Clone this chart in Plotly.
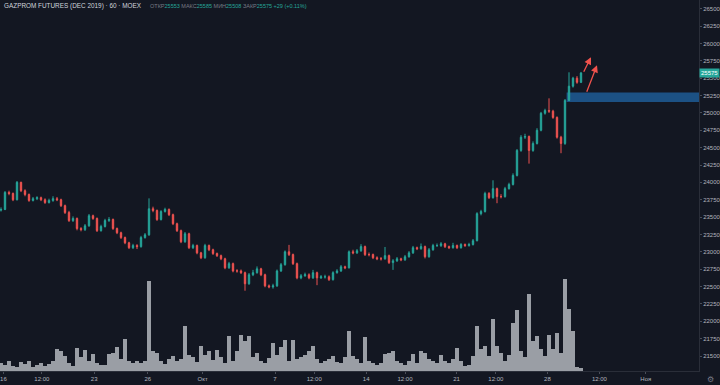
import plotly.graph_objects as go

# ---- data (hourly candles, aggregated) ----
opens = [23600, 23610, 23855, 23840, 23750, 24000, 23880, 23825, 23740, 23765,
         23780, 23750, 23710, 23740, 23765, 23750, 23665, 23565, 23450, 23480,
         23335, 23320, 23375, 23520, 23480, 23305, 23365, 23450, 23465, 23335,
         23275, 23205, 23130, 23060, 23090, 23075, 23205, 23245, 23620, 23595,
         23465, 23580, 23610, 23535, 23405, 23305, 23145, 23260, 23060, 23090,
         22985, 22915, 23090, 23030, 22975, 22945, 22900, 22770, 22830, 22725,
         22725, 22700, 22540, 22670, 22700, 22755, 22670, 22510, 22495, 22510,
         22725, 22815, 23000, 22960, 22830, 22625, 22655, 22670, 22625, 22700,
         22625, 22640, 22640, 22600, 22700, 22725, 22785, 22770, 23000, 22985,
         23015, 23075, 22960, 22960, 22915, 22900, 22900, 22945, 22845, 22870,
         22900, 22885, 22930, 22985, 23060, 23045, 23075, 22930, 23030, 23090,
         23090, 23115, 23075, 23060, 23090, 23060, 23105, 23090, 23105, 23160,
         23550, 23580, 23840, 23780, 23910, 23795, 23795, 23910, 23970, 24100,
         24460, 24650, 24660, 24460, 24560, 24750, 24995, 25035, 25025, 24935,
         24650, 24560, 25180, 25385, 25500, 25440]
closes = [23610, 23855, 23840, 23750, 24000, 23880, 23825, 23740, 23765, 23780,
          23750, 23710, 23740, 23765, 23750, 23665, 23565, 23450, 23480, 23335,
          23320, 23375, 23520, 23480, 23305, 23365, 23450, 23465, 23335, 23275,
          23205, 23130, 23060, 23090, 23075, 23205, 23245, 23620, 23595, 23465,
          23580, 23610, 23535, 23405, 23305, 23145, 23260, 23060, 23090, 22985,
          22915, 23090, 23030, 22975, 22945, 22900, 22770, 22830, 22725, 22725,
          22700, 22540, 22670, 22700, 22755, 22670, 22510, 22495, 22510, 22725,
          22815, 23000, 22960, 22830, 22625, 22655, 22670, 22625, 22700, 22625,
          22640, 22640, 22600, 22700, 22725, 22785, 22770, 23000, 22985, 23015,
          23075, 22960, 22960, 22915, 22900, 22900, 22945, 22845, 22870, 22900,
          22885, 22930, 22985, 23060, 23045, 23075, 22930, 23030, 23090, 23090,
          23115, 23075, 23060, 23090, 23060, 23105, 23090, 23105, 23160, 23550,
          23580, 23840, 23780, 23910, 23795, 23795, 23910, 23970, 24100, 24460,
          24650, 24660, 24460, 24560, 24750, 24995, 25035, 25025, 24935, 24650,
          24560, 25180, 25385, 25500, 25440, 25575]
highs = [23640, 23875, 23880, 23855, 24020, 24010, 23900, 23840, 23790, 23800,
         23795, 23770, 23765, 23800, 23790, 23765, 23680, 23590, 23510, 23495,
         23355, 23400, 23545, 23535, 23495, 23390, 23475, 23500, 23480, 23350,
         23290, 23220, 23145, 23115, 23110, 23230, 23270, 23770, 23650, 23610,
         23600, 23635, 23625, 23550, 23420, 23320, 23285, 23275, 23115, 23105,
         23000, 23115, 23105, 23045, 22990, 22960, 22915, 22855, 22845, 22750,
         22745, 22715, 22695, 22740, 22790, 22770, 22685, 22530, 22540, 22745,
         22840, 23020, 23100, 22975, 22845, 22680, 22700, 22690, 22740, 22715,
         22665, 22670, 22660, 22720, 22750, 22810, 22800, 23020, 23030, 23040,
         23110, 23090, 22990, 22975, 22935, 22925, 23070, 22960, 22895, 22925,
         22915, 22955, 23010, 23085, 23075, 23120, 23090, 23055, 23115, 23120,
         23140, 23130, 23090, 23130, 23105, 23125, 23120, 23130, 23185, 23570,
         23605, 23865, 23860, 24030, 23925, 23830, 23935, 23995, 24130, 24480,
         24680, 24700, 24675, 24590, 24780, 25015, 25060, 25210, 25045, 24950,
         24670, 25200, 25585, 25520, 25530, 25590]
lows = [23580, 23600, 23815, 23730, 23740, 23860, 23800, 23720, 23725, 23745,
        23730, 23690, 23695, 23720, 23730, 23645, 23545, 23430, 23430, 23310,
        23295, 23300, 23360, 23460, 23285, 23290, 23350, 23430, 23315, 23255,
        23185, 23110, 23040, 23040, 23040, 23060, 23190, 23230, 23570, 23445,
        23450, 23565, 23515, 23385, 23285, 23125, 23130, 23040, 23040, 22965,
        22895, 22900, 23010, 22955, 22925, 22880, 22750, 22755, 22705, 22700,
        22680, 22440, 22525, 22650, 22685, 22650, 22490, 22475, 22470, 22495,
        22710, 22800, 22940, 22810, 22605, 22605, 22640, 22605, 22610, 22520,
        22610, 22615, 22580, 22585, 22685, 22710, 22750, 22760, 22965, 22970,
        23000, 22940, 22935, 22895, 22880, 22875, 22885, 22825, 22740, 22855,
        22865, 22870, 22915, 22970, 23025, 23030, 22905, 22915, 23015, 23070,
        23070, 23055, 23040, 23045, 23040, 23045, 23070, 23075, 23090, 23150,
        23525, 23565, 23760, 23765, 23700, 23770, 23780, 23895, 23955, 24085,
        24440, 24625, 24270, 24440, 24545, 24735, 24975, 25000, 24915, 24630,
        24420, 24540, 25170, 25365, 25420, 25430]
volume_k = [8, 6, 10, 5, 4, 9, 7, 10, 4, 6,
            8, 5, 7, 10, 22, 20, 15, 8, 5, 23,
            14, 21, 10, 17, 8, 6, 6, 17, 18, 24,
            12, 32, 10, 8, 10, 8, 10, 90, 20, 18,
            10, 7, 12, 15, 10, 12, 45, 16, 14, 9,
            25, 16, 20, 11, 21, 14, 8, 35, 10, 20,
            36, 30, 35, 14, 18, 10, 8, 13, 28, 16,
            24, 31, 10, 31, 12, 14, 16, 20, 25, 12,
            8, 10, 12, 15, 9, 8, 14, 40, 15, 12,
            8, 34, 10, 8, 6, 8, 17, 18, 20, 10,
            8, 6, 10, 17, 8, 20, 18, 12, 10, 8,
            16, 10, 8, 12, 23, 10, 5, 6, 15, 45,
            22, 25, 15, 52, 25, 18, 10, 16, 48, 61,
            20, 14, 77, 30, 35, 22, 15, 36, 22, 38,
            18, 92, 62, 40, 4, 3]

x_tick_pos = [0.6, 10.2, 23.3, 36.7, 50.4, 68.5, 78.3, 91.3, 101.0, 113.9, 123.7, 136.6, 149.6, 161.2]
x_tick_text = ["16", "12:00", "23", "26", "Окт", "7", "12:00", "14", "12:00", "21", "12:00", "28", "12:00", "Ноя"]
y_ticks = list(range(21500, 26501, 250))

zone_start_idx = 141.4
zone_low, zone_high = 25157, 25293
arrows = [((145.5, 25572), (147.5, 25803)), ((146.3, 25283), (149.0, 25687))]
last_price = 25575

BG = "#131722"
UP = "#26a69a"
DOWN = "#ef5350"
TXT = "#b2b5be"

idx = list(range(len(closes)))

fig = go.Figure()
fig.add_trace(go.Bar(x=idx, y=volume_k, yaxis="y2", width=0.8,
                     marker=dict(color="rgba(170,173,180,0.9)", line=dict(width=0)),
                     hoverinfo="skip", showlegend=False))
fig.add_trace(go.Candlestick(x=idx, open=opens, high=highs, low=lows, close=closes,
                             increasing=dict(line=dict(color=UP, width=1), fillcolor=UP),
                             decreasing=dict(line=dict(color=DOWN, width=1), fillcolor=DOWN),
                             whiskerwidth=0, showlegend=False))

fig.add_shape(type="rect", xref="x", yref="y", x0=zone_start_idx, x1=174.5,
              y0=zone_low, y1=zone_high, fillcolor="#1c5184", line=dict(width=0), layer="below")

for (tx, ty), (hx, hy) in arrows:
    fig.add_annotation(x=hx, y=hy, ax=tx, ay=ty, xref="x", yref="y", axref="x", ayref="y",
                       text="", showarrow=True, arrowhead=2, arrowsize=1.1, arrowwidth=1.3,
                       arrowcolor="#f0524d")

fig.add_annotation(xref="paper", yref="paper", x=2/699, y=1-6/371, xanchor="left", yanchor="middle",
                   text="GAZPROM FUTURES (DEC 2019) · 60 · MOEX", showarrow=False,
                   font=dict(family="Liberation Sans", size=6.4, color="#d1d4dc"))
G = "#787b86"
ohlc = (f"<span style='color:{G}'>ОТКР</span>25553 <span style='color:{G}'>МАКС</span>25585 "
        f"<span style='color:{G}'>МИН</span>25508 <span style='color:{G}'>ЗАКР</span>25575 +29 (+0.11%)")
fig.add_annotation(xref="paper", yref="paper", x=148/699, y=1-6/371, xanchor="left", yanchor="middle",
                   text=ohlc, showarrow=False,
                   font=dict(family="Liberation Sans", size=5.5, color=UP))
fig.add_annotation(xref="paper", yref="y", x=1, y=last_price, xanchor="left", yanchor="middle",
                   text=str(last_price), showarrow=False, bgcolor=UP, borderpad=1,
                   font=dict(family="Liberation Sans", size=6, color="#ffffff"))
fig.add_annotation(xref="paper", yref="paper", x=710/699, y=-8/371, xanchor="center", yanchor="middle",
                   text="⚙", showarrow=False, font=dict(family="DejaVu Sans", size=8, color="#787b86"))

fig.update_layout(
    width=720, height=385, autosize=False,
    margin=dict(l=0, r=21, t=0, b=14),
    paper_bgcolor=BG, plot_bgcolor=BG,
    showlegend=False, bargap=0, boxgap=0.5,
    xaxis=dict(range=[-0.25, 174.5], tickmode="array", tickvals=x_tick_pos, ticktext=x_tick_text,
               tickfont=dict(family="Liberation Sans", size=6, color=TXT),
               showgrid=False, zeroline=False, showline=True, linecolor="#2a2e39",
               ticks="outside", ticklen=2, tickcolor="#4a4e59", rangeslider=dict(visible=False),
               fixedrange=True),
    yaxis=dict(side="right", range=[21284, 26626], tickmode="array", tickvals=y_ticks,
               tickformat="d", tickfont=dict(family="Liberation Sans", size=6, color=TXT),
               showgrid=False, zeroline=False, showline=True, linecolor="#2a2e39",
               ticks="outside", ticklen=2, tickcolor="#4a4e59", fixedrange=True),
    yaxis2=dict(overlaying="y", range=[0, 371], visible=False, fixedrange=True),
)

fig.write_html("out.html", config={"displayModeBar": False},
               post_script="document.body.style.margin='0';document.body.style.background='#131722';")
